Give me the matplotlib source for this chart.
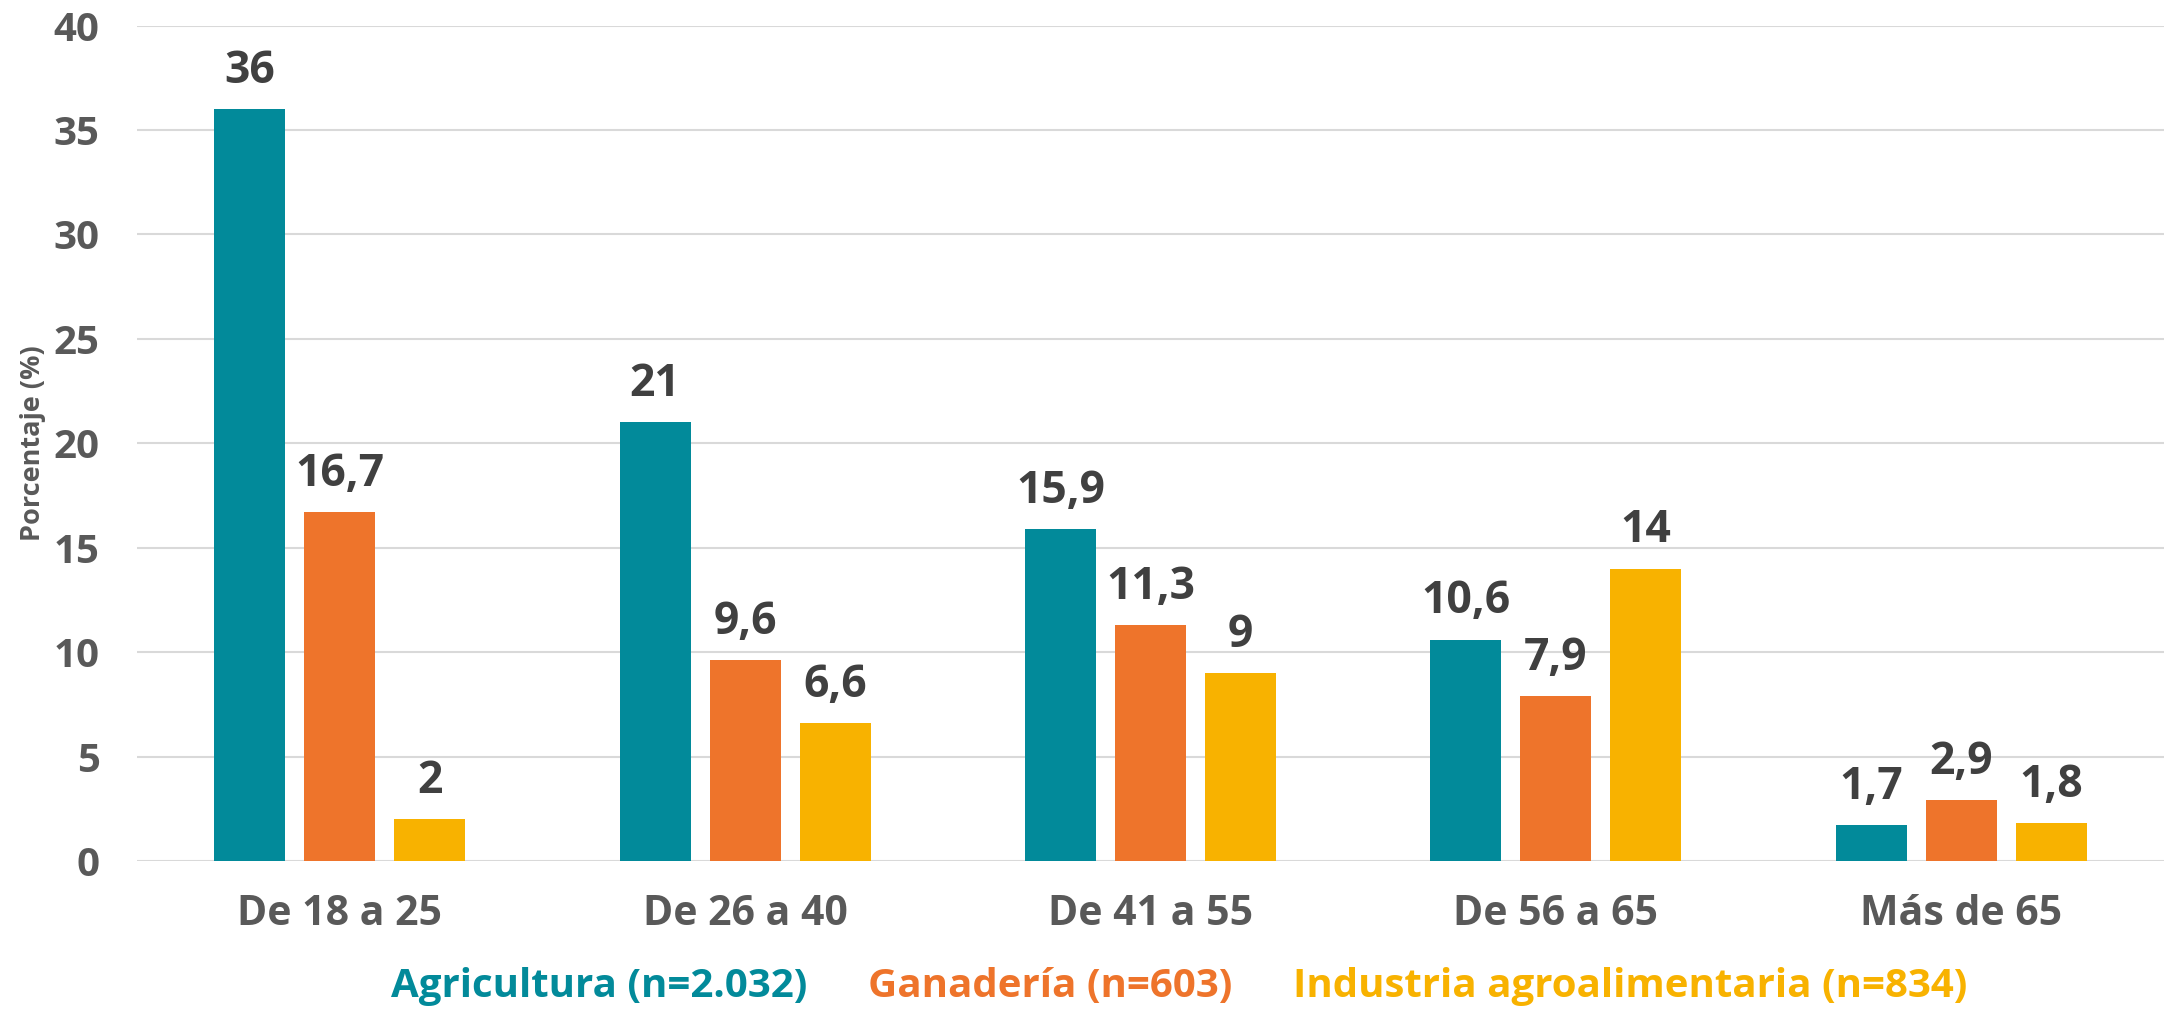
import numpy as np
import matplotlib.pyplot as plt
from matplotlib.patches import Patch

plt.rcParams['font.family'] = ['Open Sans', 'DejaVu Sans']
plt.rcParams['font.weight'] = 'bold'

categories = ['De 18 a 25', 'De 26 a 40', 'De 41 a 55', 'De 56 a 65', 'Más de 65']
series_names = ['Agricultura (n=2.032)', 'Ganadería (n=603)',
                'Industria agroalimentaria (n=834)']
agricultura = [36, 21, 15.9, 10.6, 1.7]
ganaderia = [16.7, 9.6, 11.3, 7.9, 2.9]
industria = [2, 6.6, 9, 14, 1.8]
colors = ['#028A9A', '#EE742B', '#F8B200']

fig = plt.figure(figsize=(21.64, 10.09), dpi=100)
ax = fig.add_axes([0.0633, 0.1467, 0.9367, 0.828])

x = np.arange(len(categories))
width = 0.175
step = 0.222
for i, (vals, c) in enumerate(zip([agricultura, ganaderia, industria], colors)):
    pos = x + (i - 1) * step
    ax.bar(pos, vals, width=width, color=c, zorder=3)
    for p, v in zip(pos, vals):
        lbl = ('%g' % v).replace('.', ',')
        ax.annotate(lbl, (p, v), xytext=(0, 11), textcoords='offset points',
                    ha='center', va='bottom', fontsize=32, fontweight='bold',
                    color='#404040')

ax.set_xlim(-0.5, 4.5)
ax.set_ylim(0, 40)
ax.set_yticks(range(0, 41, 5))
ax.set_xticks(x)
ax.set_xticklabels(categories)
ax.yaxis.grid(True, color='#D9D9D9', linewidth=1.5, zorder=0)
ax.set_axisbelow(True)
for s in ax.spines.values():
    s.set_visible(False)
ax.tick_params(axis='y', length=0, pad=27, labelsize=29, labelcolor='#595959')
ax.tick_params(axis='x', length=0, pad=24, labelsize=29.5, labelcolor='#595959')
for t in ax.get_xticklabels() + ax.get_yticklabels():
    t.set_fontweight('bold')

ax.set_ylabel('Porcentaje (%)', fontsize=19.5, color='#595959', fontweight='bold')
ax.yaxis.set_label_coords(-0.045, 0.5)

handles = [Patch(color='none') for _ in series_names]
leg = fig.legend(handles, series_names, loc='center', bbox_to_anchor=(0.545, 0.022),
                 ncol=3, frameon=False, handlelength=0, handletextpad=0,
                 columnspacing=1.5, fontsize=29)
for t, c in zip(leg.get_texts(), colors):
    t.set_color(c)
    t.set_fontweight('bold')

fig.savefig('out.png', dpi=100)
